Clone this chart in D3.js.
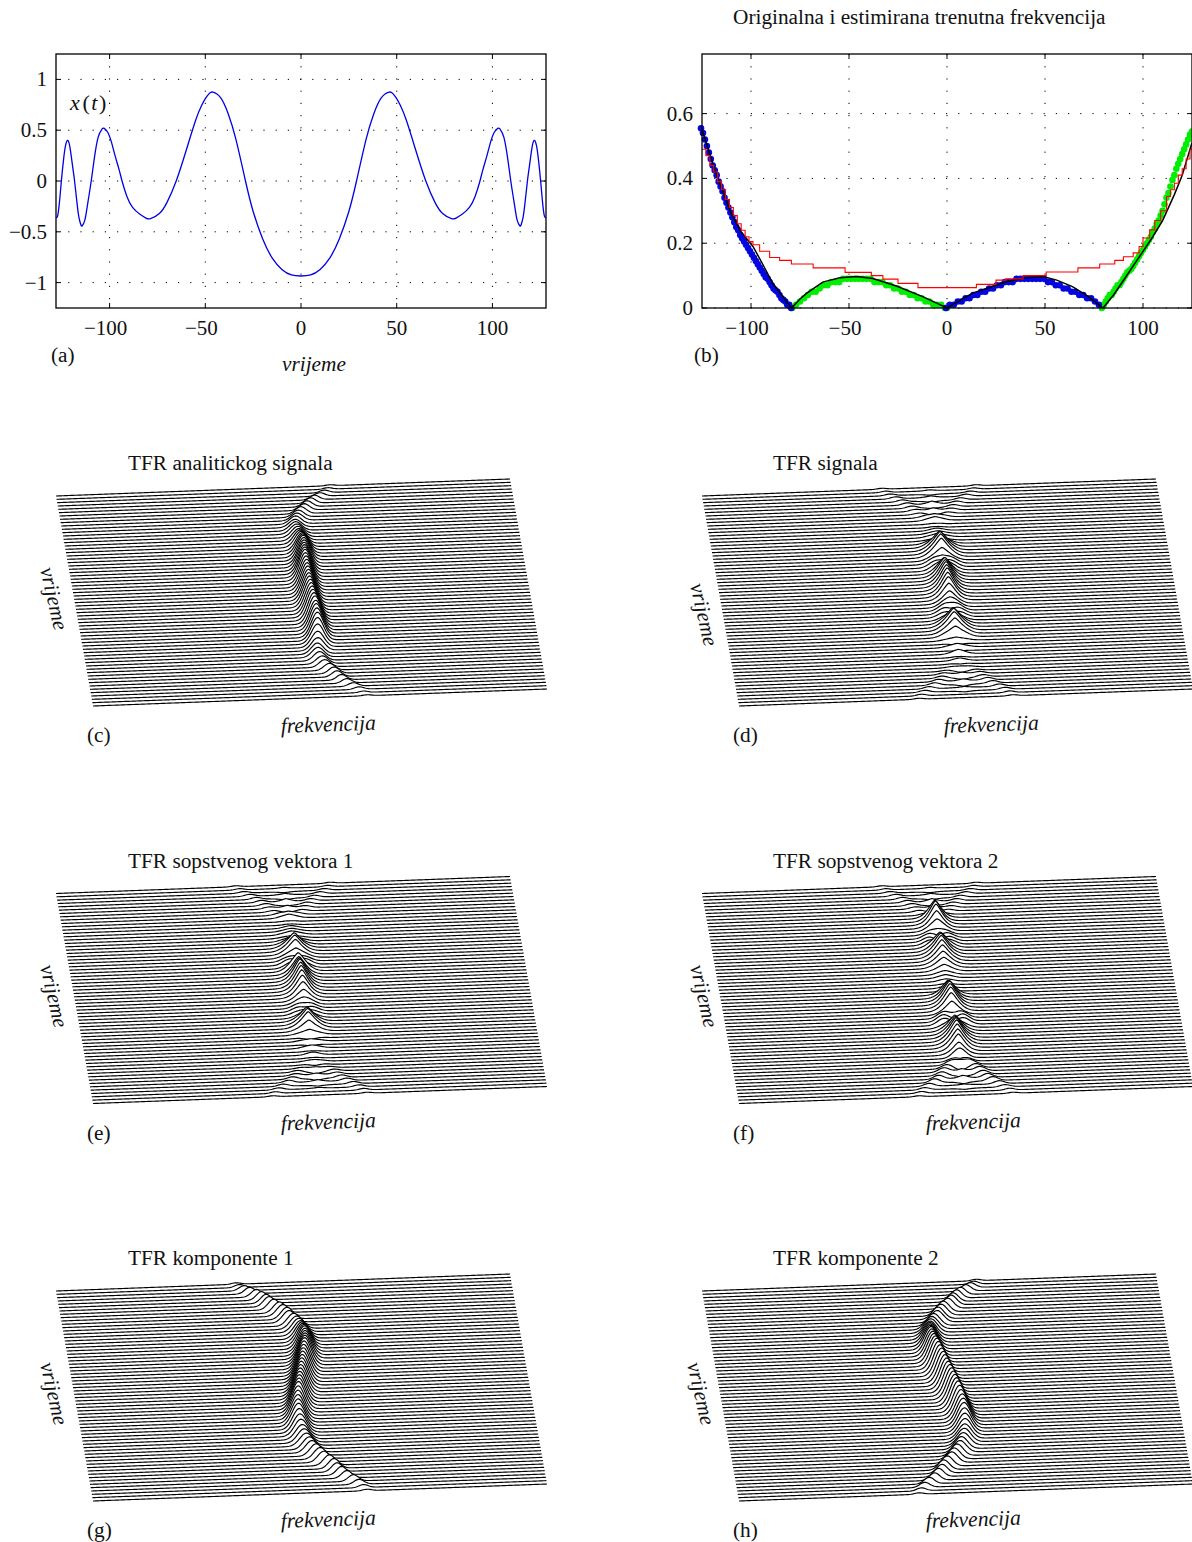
<!DOCTYPE html>
<html><head><meta charset="utf-8">
<script src="https://cdnjs.cloudflare.com/ajax/libs/d3/7.8.5/d3.min.js"></script>
<style>
html,body{margin:0;padding:0;background:#fff}
svg{display:block}
text{font-family:"Liberation Serif","Times New Roman",serif;fill:#111}
</style></head><body>
<script>
// ---------- panel (a) signal
const sigT=[-128,-127,-126,-125.2,-124,-123,-122,-121,-120,-119,-118.3,-117,-116,-115,-114.3,-113,-112,-111,-109.6,-108,-106,-104,-103,-101,-99,-97,-95,-93.5,-91,-88,-84,-81,-78.6,-74,-70,-65.2,-60,-55,-52,-50,-48,-46,-42,-38,-34,-29,-25,-20,-15,-10,-5,0,5,10,15,20,25,29,34,38,42,46,48,50,52,55,60,65.2,70,74,78.6,81,84,88,91,93.5,95,97,99,101,103,104,106,108,109.6,111,112,113,114.3,115,116,117,118.3,119,120,121,122,123,124,125.2,126,127,128];
const sigX=[-.36,-.33,-.17,0,.22,.35,.40,.36,.24,.10,0,-.22,-.36,-.43,-.44,-.39,-.29,-.17,0,.22,.43,.51,.52,.48,.38,.24,.11,0,-.15,-.26,-.33,-.365,-.37,-.32,-.21,0,.30,.60,.74,.81,.86,.875,.82,.66,.41,0,-.30,-.57,-.76,-.87,-.925,-.935,-.925,-.87,-.76,-.57,-.30,0,.41,.66,.82,.875,.86,.81,.74,.60,.30,0,-.21,-.32,-.37,-.365,-.33,-.26,-.15,0,.11,.24,.38,.48,.52,.51,.43,.22,0,-.17,-.29,-.39,-.44,-.43,-.36,-.22,0,.10,.24,.36,.40,.35,.22,0,-.17,-.33,-.36];
const aXTicks=[-100,-50,0,50,100];
const aYTicks=[-1,-0.5,0,0.5,1];
// ---------- panel (b) instantaneous frequency
const trueT=[-125,-120,-116,-110,-105,-99,-94,-89,-85,-79.3,-75,-71.7,-63.4,-54.7,-46,-37.8,-25.8,-12.4,0,13,30.3,40,49,56,64,72,79.6,85,90,95,100,105,110,116,120,125];
const trueF=[.55,.455,.385,.29,.235,.19,.135,.077,.045,0,.028,.045,.08,.0935,.097,.091,.068,.035,0,.046,.081,.093,.097,.086,.066,.036,0,.04,.085,.13,.175,.22,.27,.35,.41,.51];
const blueT=[-125,-124,-123,-122,-121,-120,-119,-118,-117,-116,-115,-114,-113,-112,-111,-110,-109,-108,-107,-106,-105,-104,-103,-102,-101,-100,-99,-98,-97,-96,-95,-94,-93,-92,-91,-90,-89,-88,-87,-86,-85,-84,-83,-82,-81,-80,-79,0,2,4,6,8,10,12,14,16,18,20,22,24,26,28,30,32,34,36,38,40,42,44,46,48,50,52,54,56,58,60,62,64,66,68,70,72,74,76,78];
const blueF=[.555,.54,.52,.50,.48,.46,.44,.425,.41,.39,.375,.36,.34,.325,.31,.295,.28,.265,.25,.24,.225,.215,.205,.195,.185,.175,.165,.155,.145,.135,.125,.115,.105,.095,.09,.08,.07,.06,.055,.05,.04,.03,.025,.02,.01,.01,0,0,.01,.01,.02,.02,.03,.03,.04,.04,.05,.05,.06,.06,.07,.07,.08,.08,.08,.09,.09,.09,.09,.09,.09,.09,.09,.08,.08,.07,.07,.06,.06,.05,.05,.04,.04,.03,.03,.02,.01,.01,0];
const greenT=[-79,-77,-75,-73,-71,-69,-67,-65,-63,-61,-59,-57,-55,-53,-51,-49,-47,-45,-43,-41,-39,-37,-35,-33,-31,-29,-27,-25,-23,-21,-19,-17,-15,-13,-11,-9,-7,-5,-3,-1,0,79,80,81,82,83,84,85,86,87,88,89,90,91,92,93,94,95,96,97,98,99,100,101,102,103,104,105,106,107,108,109,110,111,112,113,114,115,116,117,118,119,120,121,122,123,124,125];
const greenF=[0,.01,.02,.03,.04,.05,.05,.06,.07,.07,.08,.08,.08,.09,.09,.09,.09,.09,.09,.09,.09,.08,.08,.08,.07,.07,.06,.06,.05,.05,.04,.04,.03,.03,.02,.02,.01,.01,.01,0,0,0,.01,.02,.03,.04,.04,.05,.06,.07,.07,.08,.09,.10,.11,.115,.12,.13,.14,.15,.16,.17,.18,.19,.20,.21,.22,.235,.245,.26,.27,.285,.30,.32,.34,.355,.375,.395,.41,.43,.445,.46,.475,.49,.505,.52,.535,.545];
const redT=[-125,-123,-121,-119,-117,-115,-113,-111,-109,-107,-105,-103,-101,-99,-95.6,-90.5,-85.4,-79.4,-68.3,-52,-38.6,-32.7,-25,-14.8,15,25,30,38.8,50.6,66.8,77.9,85.6,90,95,98,100,103.4,106,109,112,114,116,118,120,122,124,125];
const redF=[.49,.47,.44,.42,.39,.365,.335,.31,.285,.26,.24,.22,.205,.195,.175,.156,.147,.136,.124,.11,.10,.089,.076,.063,.073,.086,.09,.10,.111,.124,.136,.147,.158,.17,.19,.216,.241,.27,.30,.344,.365,.385,.41,.43,.46,.49,.49];
const bXTicks=[-100,-50,0,50,100];
const bYTicks=[0,0.2,0.4,0.6];
// ---------- waterfalls: ridge frequency per row (64 rows, read from the ridges)
const ridgeF=[.47,.44,.40,.35,.29,.245,.205,.18,.14,.09,.06,.025,.01,.03,.055,.07,.082,.09,.094,.096,.097,.095,.091,.085,.077,.068,.058,.048,.038,.027,.016,.005,.005,.016,.027,.038,.048,.058,.068,.077,.085,.091,.095,.097,.096,.094,.09,.082,.07,.055,.03,.01,.025,.06,.09,.14,.18,.205,.245,.29,.35,.40,.44,.47];
const ridgeAnalytic=[.47,.44,.40,.35,.29,.245,.205,.17,.13,.10,.08,.06,.05,.05,.055,.06,.065,.07,.075,.08,.08,.08,.078,.075,.07,.068,.065,.062,.06,.06,.06,.06,.06,.06,.06,.06,.062,.065,.068,.07,.075,.078,.08,.08,.08,.08,.075,.07,.065,.06,.05,.05,.06,.08,.10,.14,.18,.205,.245,.29,.35,.40,.44,.47];
const ridgeW=[.045,.045,.05,.05,.05,.05,.052,.054,.056,.058,.06,.06,.062,.062,.065,.065,.065,.065,.065,.065,.065,.065,.065,.065,.065,.065,.065,.065,.065,.065,.065,.065,.065,.065,.065,.065,.065,.065,.065,.065,.065,.065,.065,.065,.065,.065,.065,.065,.065,.065,.062,.062,.06,.06,.058,.056,.054,.052,.05,.05,.05,.05,.045,.045];
const hAnalytic=[1,1.5,2.5,3.5,4.5,5.5,6,6.5,7,7,7.5,8,8,9,10,11,12,14,16,18,20,22,23,24,25,26,27,28,28,28,28,28,28,28,28,28,28,28,28,28,28,28,27,27,26,25,23,20,16,13,11,10,9,8,7.5,7,6.5,6,5.5,4.5,3.5,2.5,1.5,1];
const hComp1=[1.5,3,5,6.5,7.5,8.5,9,10,10.5,11,11.5,12,12,12.5,13,14,15,17,19,21,23,24,25,26,27,28,28,28,28,28,28,28,28,28,28,28,28,28,28,27,26,25,24,23,21,19,17,15,14,13,12.5,12,12,11.5,11,10.5,10,9,8.5,7.5,6.5,5,3,1.5];
const hComp2=hComp1.slice();
const signComp1=[-1,-1,-1,-1,-1,-1,-1,-1,-1,-1,-1,-1,-1,1,1,1,1,1,1,1,1,1,1,1,1,1,1,1,1,1,1,1,-1,-1,-1,-1,-1,-1,-1,-1,-1,-1,-1,-1,-1,-1,-1,-1,-1,-1,-1,-1,1,1,1,1,1,1,1,1,1,1,1,1];
const dPos=[1,1.3,1.6,2,2,2.2,2.2,2,1.8,1.5,1,1,1,1,1,1,1,2,2,2,2,2,2,5,6,5,2,2,2,2,2,2,2,2,2,2,5,7,7,5,2,2,2,2,2,2,1,1,1,1,1,1,1,1,1,1.3,2,2.2,2.5,2.5,2.2,2,1.6,1];
const dNeg=dPos.slice();
const dMid=[0,1,-1,1.5,-1.5,3,-1,3,-1,3,3,-1,-1,1,2,3,2,7,15,18,19,18,12,5,2,5,14,17,18,19,19,19,18,17,14,10,3,-1,-2,1,8,15,18,18,15,10,3,-2,3,-2,3,-1,1,-1,1,-1.5,2,-2,2,-2,1,-1,0,0];
const ePos=[1,1.3,1.6,2,2,2.2,2.2,2,1.8,1.5,1,1,1,1,1,1,1,1,1,1,1,1,2,4,6,5,3,1,1,1,1,1,1,1,1,2,4,5,5,3,1,1,1,1,1,1,1,1,1,1,1,1,1,1,1,1.3,2,2.2,2.5,2.5,2.2,2,1.6,1];
const eNeg=ePos.slice();
const eMid=[0,1,-1,1.5,-1.5,3,-1,3,-1,3,3,-1,-1,1,2,3,2,5,10,15,16,15,9,3,0,2,15,17,19,21,21,21,20,18,15,9,2,-1,-1,3,8,14,16,16,11,5,-2,2,-2,2,-1,1,-1,1,-1,1.5,-2,2,-2,2,-1,1,0,0];
const fPos=[1,1.3,1.6,2,2,2.2,2.2,2,2,1.5,1,1,1,1,2,4,6,6,5,2,1,1,1,1,1,1,1,1,1,1,1,1,1,1,1,1,1,1,1,1,7,8,7,2,1,1,1,1,1,1,1,1,4,4.5,4.5,4.5,4.5,4,4,4,3,2.2,1.8,1];
const fNeg=fPos.slice();
const fMid=[0,1,-1,1.5,-1.5,3,-1,3,-1,2,17,19,19,16,10,2,-2,-3,1,15,18,19,18,16,13,10,6,3,2,1,-.5,.5,1,13,16,19,20,20,18,13,0,-2,0,10,16,18,20,21,20,18,16,11,3,-2,3,-2,3,-2,3,-2,1,-1,0,0];
const waterfalls=[
 {id:'c',ox:0,oy:0,title:'TFR analitickog signala',fx:281,lab:'(c)',vx:40,mode:'a'},
 {id:'d',ox:646,oy:0,title:'TFR signala',fx:944,lab:'(d)',vx:690,vy:16,mode:'r',pos:dPos,neg:dNeg,mid:dMid},
 {id:'e',ox:0,oy:397.5,title:'TFR sopstvenog vektora 1',fx:281,lab:'(e)',vx:40,mode:'r',pos:ePos,neg:eNeg,mid:eMid},
 {id:'f',ox:646,oy:397.5,title:'TFR sopstvenog vektora 2',fx:926,lab:'(f)',vx:690,vy:0,mode:'r',pos:fPos,neg:fNeg,mid:fMid},
 {id:'g',ox:0,oy:795,title:'TFR komponente 1',fx:281,lab:'(g)',vx:40,mode:'c',s:1},
 {id:'h',ox:646,oy:795,title:'TFR komponente 2',fx:926,lab:'(h)',vx:687,mode:'c',s:-1}
];
const MINUS='\u2212';
const fmt=v=>(v<0?MINUS:'')+Math.abs(v);

const svg=d3.select('body').append('svg').attr('width',1192).attr('height',1542);

function frame(x0,x1,y0,y1,xs,ys,xt,yt,yFmt){
  const g=svg.append('g');
  xt.forEach(t=>g.append('line').attr('x1',xs(t)).attr('x2',xs(t)).attr('y1',y0).attr('y2',y1)
    .attr('stroke','#000').attr('stroke-width',1).attr('stroke-dasharray','1.2 11'));
  yt.forEach(t=>g.append('line').attr('x1',x0).attr('x2',x1).attr('y1',ys(t)).attr('y2',ys(t))
    .attr('stroke','#000').attr('stroke-width',1).attr('stroke-dasharray','1.2 11'));
  xt.forEach(t=>{
    g.append('line').attr('x1',xs(t)).attr('x2',xs(t)).attr('y1',y1).attr('y2',y1-5).attr('stroke','#000');
    g.append('line').attr('x1',xs(t)).attr('x2',xs(t)).attr('y1',y0).attr('y2',y0+5).attr('stroke','#000');
    g.append('text').attr('x',xs(t)-(t<0?4:0)).attr('y',y1+27).attr('text-anchor','middle').attr('font-size',21).text(fmt(t));
  });
  yt.forEach(t=>{
    g.append('line').attr('x1',x0).attr('x2',x0+5).attr('y1',ys(t)).attr('y2',ys(t)).attr('stroke','#000');
    g.append('line').attr('x1',x1).attr('x2',x1-5).attr('y1',ys(t)).attr('y2',ys(t)).attr('stroke','#000');
    g.append('text').attr('x',x0-9).attr('y',ys(t)+7).attr('text-anchor','end').attr('font-size',21).text(yFmt(t));
  });
  return g;
}
function box(x0,x1,y0,y1){
  svg.append('rect').attr('x',x0).attr('y',y0).attr('width',x1-x0).attr('height',y1-y0)
    .attr('fill','none').attr('stroke','#000').attr('stroke-width',1.3);
}
function label(x,y,t,o={}){
  const e=svg.append('text').attr('x',x).attr('y',y).attr('font-size',o.size||21.3).text(t);
  if(o.italic)e.attr('font-style','italic');
  if(o.rot!=null)e.attr('transform',`rotate(${o.rot} ${x} ${y})`);
  if(o.fill)e.attr('fill',o.fill);
  return e;
}

// ---- panel a
{
 const xs=d3.scaleLinear().domain([-128,128]).range([56,546]);
 const ys=d3.scaleLinear().domain([-1.25,1.25]).range([308,54]);
 frame(56,546,54,308,xs,ys,aXTicks,aYTicks,fmt);
 const pts=sigT.map((t,i)=>[t,sigX[i]]);
 svg.append('path').attr('d',d3.line().x(d=>xs(d[0])).y(d=>ys(d[1])).curve(d3.curveNatural)(pts))
   .attr('fill','none').attr('stroke','#0000e6').attr('stroke-width',1.3);
 box(56,546,54,308);
 const xt=svg.append('text').attr('x',70).attr('y',110).attr('font-size',22).attr('fill','#333').attr('letter-spacing',1.6);
 xt.append('tspan').attr('font-style','italic').text('x');
 xt.append('tspan').attr('dx',1).text('(');
 xt.append('tspan').attr('font-style','italic').text('t');
 xt.append('tspan').text(')');
 label(51,362,'(a)');
 label(282,371,'vrijeme',{italic:true});
}
// ---- panel b
{
 const xs=d3.scaleLinear().domain([-125,125]).range([702,1192]);
 const ys=d3.scaleLinear().domain([0,0.784]).range([308,54]);
 frame(702,1192,54,308,xs,ys,bXTicks,bYTicks,v=>v);
 svg.append('clipPath').attr('id','bclip').append('rect').attr('x',695).attr('y',54).attr('width',497).attr('height',258);
 const g=svg.append('g').attr('clip-path','url(#bclip)');
 g.selectAll('.gr').data(greenT).join('circle').attr('class','gr').attr('cx',d=>xs(d)).attr('cy',(d,i)=>ys(greenF[i])).attr('r',3.3).attr('fill','#00ee00');
 g.selectAll('.bl').data(blueT).join('circle').attr('class','bl').attr('cx',d=>xs(d)-1).attr('cy',(d,i)=>ys(blueF[i])).attr('r',3.3).attr('fill','#0505e0');
 const ln=d3.line().x(d=>xs(d[0])).y(d=>ys(d[1]));
 g.append('path').attr('d',ln.curve(d3.curveLinear)(trueT.map((t,i)=>[t,trueF[i]]))).attr('fill','none').attr('stroke','#000').attr('stroke-width',1.5);
 g.append('path').attr('d',ln.curve(d3.curveStepAfter)(redT.map((t,i)=>[t,redF[i]]))).attr('fill','none').attr('stroke','#f00').attr('stroke-width',1.1);
 box(702,1192,54,308);
 label(733,24,'Originalna i estimirana trenutna frekvencija');
 label(694,362,'(b)');
}
// ---- waterfalls
const fScale=d3.scaleLinear().domain([-2.265,2.265]).range([0,454]);
const fSlope=d3.scaleLinear().domain([-2.265,2.265]).range([0,-17]);
const rX=d3.scaleLinear().domain([0,63]).range([56,93]);
const rY=d3.scaleLinear().domain([0,63]).range([496,706]);
const grid=d3.range(-2.265,2.2651,0.0125).concat([2.265]);
// rounded and pointed ridge profiles
const peak=(f,c,h,w)=>h*Math.exp(-0.5*((f-c)/w)**2);
const tent=(f,c,h,w)=>h*Math.exp(-0.7*Math.abs((f-c)/w)**1.45);
function rowHeight(p,r,f){
  const c=ridgeF[r],w=ridgeW[r];
  if(p.mode==='a')return peak(f,ridgeAnalytic[r],hAnalytic[r],w*.95);
  if(p.mode==='c')return peak(f,c*signComp1[r]*p.s,(p.s>0?hComp1:hComp2)[r],w);
  return peak(f,c,p.pos[r],w)+peak(f,-c,p.neg[r],w)+tent(f,0,p.mid[r],w*1.15);
}
waterfalls.forEach(p=>{
  const g=svg.append('g').attr('transform',`translate(${p.ox},${p.oy})`);
  d3.range(64).forEach(r=>{
    const pts=grid.map(f=>{
      const z=rowHeight(p,r,f);
      const x=rX(r)+fScale(f), b=rY(r)+fSlope(f);
      return [x,b,b-z];
    });
    g.append('path').attr('d',d3.area().x(d=>d[0]).y0(d=>d[1]+1).y1(d=>d[2])(pts)).attr('fill','#fff').attr('stroke','none');
    g.append('path').attr('d',d3.line().x(d=>d[0]).y(d=>d[2])(pts)).attr('fill','none').attr('stroke','#000').attr('stroke-width',1.15);
  });
  label(128+p.ox+(p.ox?-1:0),470+p.oy,p.title);
  label(87+p.ox,742+p.oy,p.lab);
  label(p.fx,733+p.oy,'frekvencija',{italic:true,rot:-2,size:21.6});
  label(p.vx,569+p.oy+(p.vy||0),'vrijeme',{italic:true,rot:77});
});
</script>
</body></html>
